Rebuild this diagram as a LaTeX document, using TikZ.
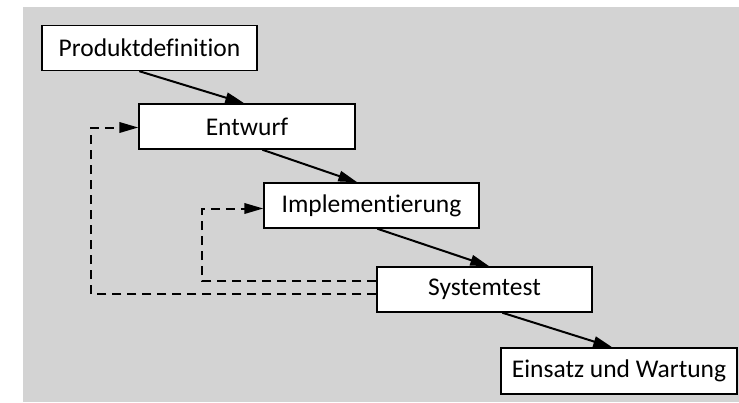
\documentclass[tikz,border=0pt]{standalone}
\usepackage{fontspec}
\setmainfont{Carlito}[Ligatures={NoCommon}]
\usetikzlibrary{arrows.meta,calc}
\definecolor{panelgray}{RGB}{211,211,211}
\tikzset{
  phase/.style={draw=black, line width=1.4bp, fill=white, minimum height=45bp,
    inner sep=0pt, font=\fontsize{25.5bp}{30bp}\selectfont},
  flow/.style={line width=2bp, -{Triangle[length=19bp,width=10.5bp]}},
  loopback/.style={line width=2bp, dash pattern=on 9bp off 6bp,
    -{Triangle[length=19bp,width=10.5bp]}}
}
\begin{document}
\begin{tikzpicture}[x=1bp,y=-1bp]
  \useasboundingbox (0,0) rectangle (739,402);
  \fill[panelgray] (23,7) rectangle (739,402);

  \node[phase, minimum width=215bp] (p) at (149.5,48) {Produktdefinition};
  \node[phase, minimum width=216bp] (e) at (247,126.5) {Entwurf};
  \node[phase, minimum width=215bp] (i) at (371.5,205.5) {Implementierung};
  \node[phase, minimum width=215bp] (s) at (484.5,289.5) {Systemtest};
  \node[phase, minimum width=236bp, minimum height=46bp] (w) at (619,371) {Einsatz und Wartung};

  % forward flow between phases
  \draw[flow] ($(p.south west)+(98,0)$) -- ($(e.north west)+(106,0)$);
  \draw[flow] ($(e.south west)+(124,0)$) -- ($(i.north west)+(94,0)$);
  \draw[flow] ($(i.south west)+(114,0)$) -- ($(s.north west)+(113,0)$);
  \draw[flow] ($(s.south west)+(126,0)$) -- ($(w.north west)+(112,0)$);

  % feedback from the test phase
  \draw[loopback] ($(s.west)+(0,-8.5)$) -- ++(-174,0) |- ($(i.west)+(0,3)$);
  \draw[loopback] ($(s.west)+(0,4.5)$) -- ++(-285,0) |- ($(e.west)+(0,1)$);
\end{tikzpicture}
\end{document}
